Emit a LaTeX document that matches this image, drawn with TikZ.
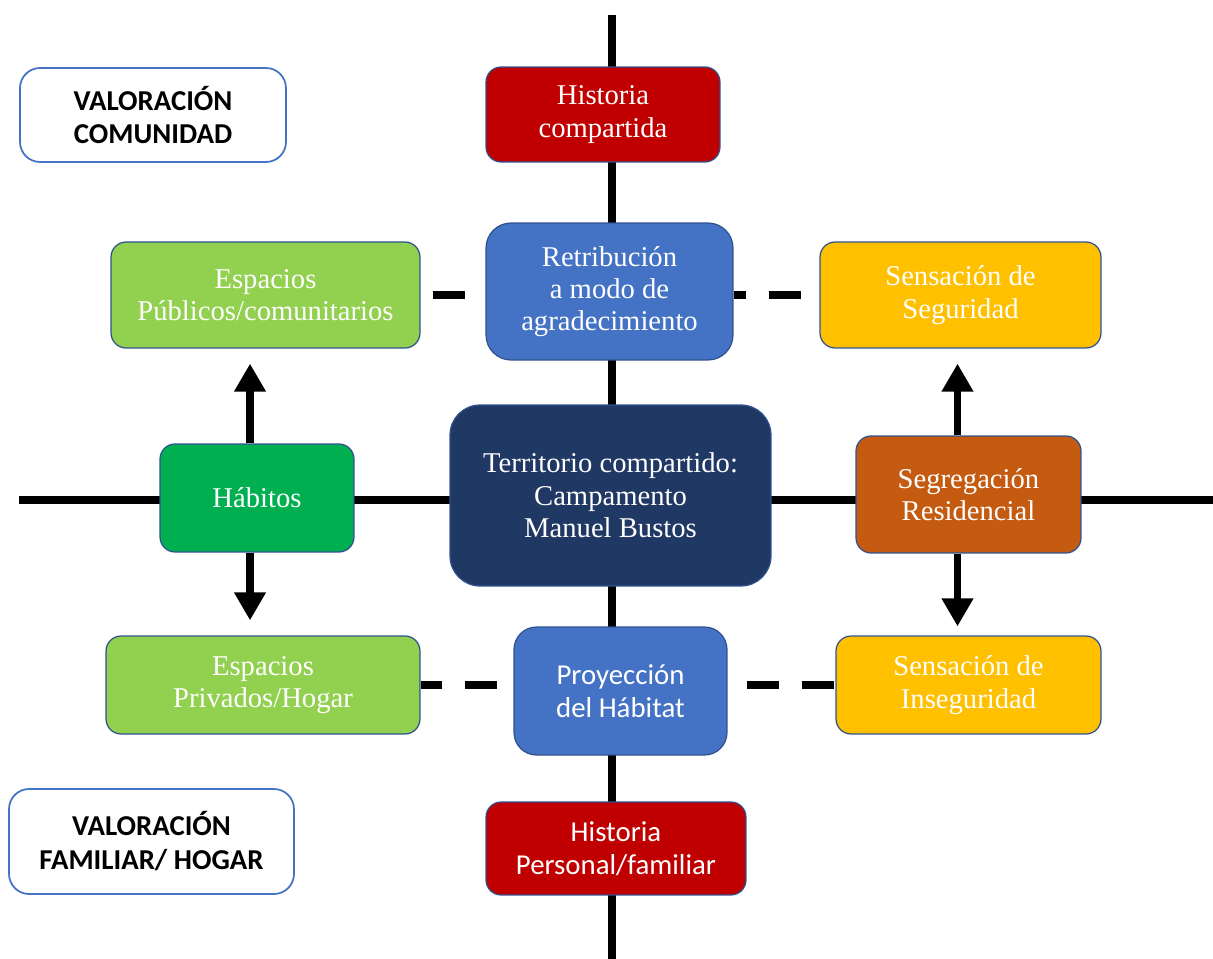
\documentclass[tikz,border=0pt]{standalone}
\usepackage{fontspec}
\setmainfont{Liberation Serif}
\newfontfamily\calibri{Carlito}
\usetikzlibrary{arrows.meta}

\definecolor{rojo}{HTML}{C00000}
\definecolor{azul}{HTML}{4472C4}
\definecolor{verdeclaro}{HTML}{92D050}
\definecolor{verde}{HTML}{00B050}
\definecolor{ambar}{HTML}{FFC000}
\definecolor{marino}{HTML}{203864}
\definecolor{naranja}{HTML}{C55A11}
\definecolor{borde}{HTML}{2F528F}

\begin{document}
\begin{tikzpicture}[x=0.02cm,y=-0.02cm,
    caja/.style={draw=borde, line width=0.7pt, rounded corners=0.3cm, text=white, align=center, inner sep=0pt, font=\fontsize{16.3}{18.4}\selectfont},
    cajasans/.style={caja, font=\calibri\fontsize{16.4}{19}\selectfont},
    valor/.style={draw=azul, line width=1pt, fill=white, rounded corners=0.4cm, align=center, inner sep=0pt, font=\calibri\bfseries\fontsize{16.4}{19.3}\selectfont},
    eje/.style={line width=4.5pt},
    guion/.style={line width=4.2pt, dash pattern=on 0.64cm off 0.46cm},
    flecha/.style={line width=4.5pt, -{Triangle[width=0.6cm,length=0.56cm]}, shorten >=0.3cm}]
            \useasboundingbox (0,0) rectangle (1213,959);
            % ejes
            \coordinate (ejeN) at (612,15);
            \coordinate (ejeS) at (612,959);
            \coordinate (ejeO) at (19,500);
            \coordinate (ejeE) at (1213,500);
            \draw [eje] (ejeN) -- (ejeS);
            \draw [eje] (ejeO) -- (ejeE);
            % cajas
            \node [valor, minimum width=5.32cm, minimum height=1.88cm] (valCom) at (153,115) {VALORACIÓN\\COMUNIDAD};
            \node [valor, minimum width=5.7cm, minimum height=2.1cm] (valFam) at (151.5,841.5) {VALORACIÓN\\FAMILIAR/ HOGAR};
            \node [caja, fill=rojo, minimum width=4.68cm, minimum height=1.9cm] (histC) at (603,114.5) {Historia\\compartida};
            \node [caja, fill=azul, minimum width=4.94cm, minimum height=2.74cm, rounded corners=0.5cm] (retrib) at (609.5,291.5) {Retribución\\a modo de\\agradecimiento};
            \node [caja, fill=verdeclaro, minimum width=6.18cm, minimum height=2.12cm] (espPub) at (265.5,295) {Espacios\\Públicos/comunitarios};
            \node [caja, fill=ambar, minimum width=5.62cm, minimum height=2.12cm] (sensSeg) at (960.5,295) {Sensación de\\Seguridad};
            \node [caja, fill=verde, minimum width=3.88cm, minimum height=2.16cm] (habitos) at (257,498) {Hábitos};
            \node [caja, fill=marino, minimum width=6.42cm, minimum height=3.62cm, rounded corners=0.6cm] (terr) at (610.5,495.5) {Territorio compartido:\\Campamento\\Manuel Bustos};
            \node [caja, fill=naranja, minimum width=4.5cm, minimum height=2.34cm] (segreg) at (968.5,494.5) {Segregación\\Residencial};
            \node [caja, fill=verdeclaro, minimum width=6.28cm, minimum height=1.96cm] (espPriv) at (263,685) {Espacios\\Privados/Hogar};
            \node [cajasans, fill=azul, minimum width=4.26cm, minimum height=2.56cm, rounded corners=0.45cm] (proy) at (620.5,691) {Proyección\\del Hábitat};
            \node [caja, fill=ambar, minimum width=5.3cm, minimum height=1.96cm] (sensIns) at (968.5,685) {Sensación de\\Inseguridad};
            \node [cajasans, fill=rojo, minimum width=5.2cm, minimum height=1.86cm] (histP) at (616,848.5) {Historia\\Personal/familiar};
            % lineas discontinuas
            \draw [guion, dash phase=0.86cm] (espPub.east) -- (espPub.east -| retrib.west);
            \draw [guion, dash phase=0.4cm] (retrib.east |- sensSeg.west) -- (sensSeg.west);
            \draw [guion, dash phase=0.22cm] (espPriv.east) -- (espPriv.east -| proy.west);
            \draw [guion, dash phase=0.72cm] (proy.east |- sensIns.west) -- (sensIns.west);
            % flechas
            \draw [flecha] ([xshift=-0.14cm]habitos.north) -- ([xshift=-0.14cm]habitos.north |- espPub.south);
            \draw [flecha] ([xshift=-0.14cm]habitos.south) -- ([xshift=-0.14cm]habitos.south |- espPriv.north);
            \draw [flecha] ([xshift=-0.22cm]segreg.north) -- ([xshift=-0.22cm]segreg.north |- sensSeg.south);
            \draw [flecha, shorten >=0.18cm] ([xshift=-0.22cm]segreg.south) -- ([xshift=-0.22cm]segreg.south |- sensIns.north);
        \end{tikzpicture}
\end{document}
